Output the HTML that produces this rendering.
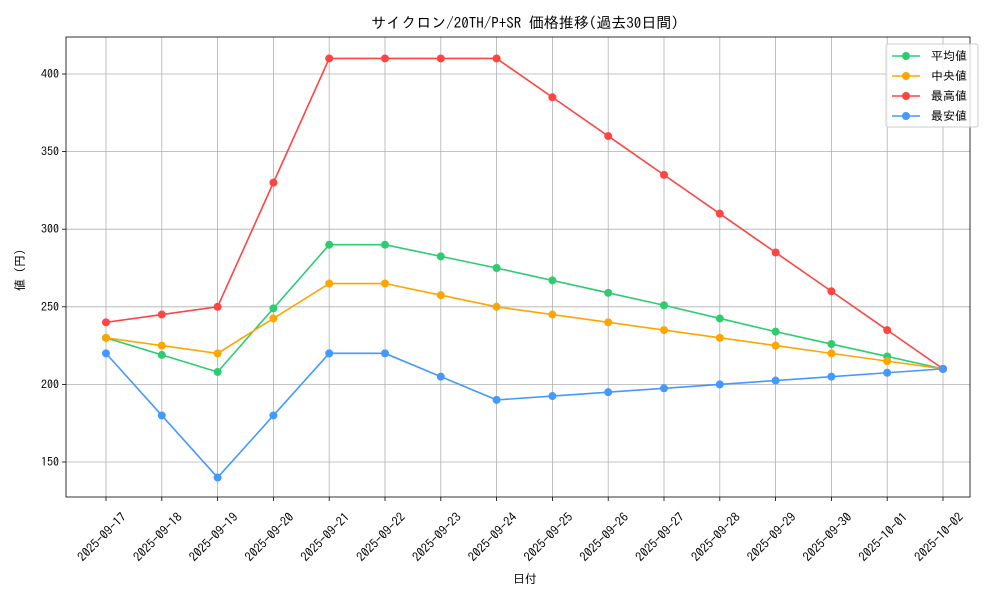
<!DOCTYPE html>
<html><head><meta charset="utf-8"><style>
html,body{margin:0;padding:0;background:#fff;}
svg{display:block;font-family:"IPAGothic","Noto Sans CJK JP",sans-serif;}
</style></head><body>
<svg width="1000" height="600" viewBox="0 0 1000 600" xmlns="http://www.w3.org/2000/svg">
<rect width="1000" height="600" fill="#fff"/>
<g id="grid" stroke="#b0b0b0" stroke-width="0.8"></g>
<rect x="66" y="37" width="904" height="460" fill="none" stroke="#000" stroke-width="0.8"/>
<g id="ticks" font-size="12" fill="#000"></g>
<g id="series"></g>
<text x="525" y="28" font-size="15" text-anchor="middle">サイクロン/20TH/P+SR 価格推移(過去30日間)</text>
<text x="525" y="583" font-size="12" text-anchor="middle">日付</text>
<text transform="translate(24,270) rotate(-90)" font-size="12" text-anchor="middle">値 (円)</text>
<g id="legend">
<rect x="886" y="44" width="92" height="83" fill="#fff" fill-opacity="0.8" stroke="#ccc" rx="2"/>
</g>
<script>
var ns="http://www.w3.org/2000/svg";
function el(t,a,p,txt){var e=document.createElementNS(ns,t);for(var k in a)e.setAttribute(k,a[k]);if(txt)e.textContent=txt;document.getElementById(p).appendChild(e);return e;}
function X(i){return 106+i*55.8;}
function Y(v){return 74+(400-v)*1.552;}
var dates=["09-17","09-18","09-19","09-20","09-21","09-22","09-23","09-24","09-25","09-26","09-27","09-28","09-29","09-30","10-01","10-02"];
for(var i=0;i<16;i++){var x=X(i);
el("line",{x1:x,y1:37,x2:x,y2:497},"grid");
el("line",{x1:x,y1:497,x2:x,y2:501,stroke:"#000","stroke-width":0.8},"ticks");
el("text",{transform:"translate("+(x-1)+",540) rotate(-45)","text-anchor":"middle","font-size":"12.5"},"ticks","2025-"+dates[i]);}
for(var v=150;v<=400;v+=50){var y=Y(v);
el("line",{x1:66,y1:y,x2:970,y2:y},"grid");
el("line",{x1:62,y1:y,x2:66,y2:y,stroke:"#000","stroke-width":0.8},"ticks");
el("text",{x:59,y:y+4,"text-anchor":"end"},"ticks",""+v);}
var S=[
["平均値","#2ecc71",[230,219,208,249,290,290,282.5,275,267,259,251,242.5,234,226,218,210]],
["中央値","#ffa500",[230,225,220,242.5,265,265,257.5,250,245,240,235,230,225,220,215,210]],
["最高値","#ff4444",[240,245,250,330,410,410,410,410,385,360,335,310,285,260,235,210]],
["最安値","#4499ff",[220,180,140,180,220,220,205,190,192.5,195,197.5,200,202.5,205,207.5,210]]];
S.forEach(function(s,k){var pts=s[2].map(function(v,i){return X(i)+","+Y(v);}).join(" ");
el("polyline",{points:pts,fill:"none",stroke:s[1],"stroke-width":1.6},"series");
s[2].forEach(function(v,i){el("circle",{cx:X(i),cy:Y(v),r:4,fill:s[1]},"series");});
var ly=56+k*20;
el("line",{x1:892,y1:ly,x2:920,y2:ly,stroke:s[1],"stroke-width":1.6},"legend");
el("circle",{cx:906,cy:ly,r:4,fill:s[1]},"legend");
el("text",{x:931,y:ly+4,"font-size":12},"legend",s[0]);});
</script>
</svg>
</body></html>
